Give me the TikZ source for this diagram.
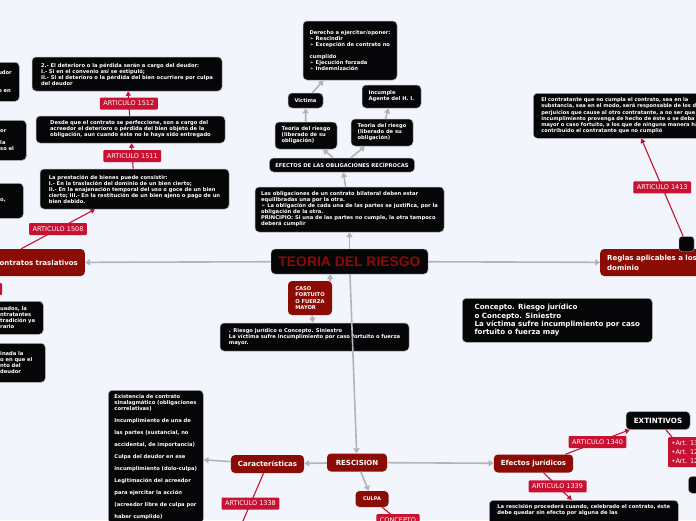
\documentclass[tikz,border=0pt]{standalone}
\usepackage{fontspec}
\setmainfont{DejaVu Sans}
\newfontfamily\titlefont{Liberation Sans}
\usepackage{tikz}
\usetikzlibrary{arrows.meta, positioning, calc}
\usepackage{xcolor}

\definecolor{bgblue}{RGB}{243,245,252}
\definecolor{nodered}{RGB}{139,12,4}
\definecolor{artred}{RGB}{201,17,50}
\definecolor{boxblack}{RGB}{6,6,8}
\definecolor{linkgray}{RGB}{178,180,186}

\tikzset{
  blackbox/.style={fill=boxblack, draw=gray!60, line width=0.5pt, rounded corners=4pt, text=white,
    align=left, font=\bfseries\fontsize{5.2}{6}\selectfont, inner xsep=6pt, inner ysep=4pt},
  redbox/.style={fill=nodered, rounded corners=4pt, text=white, align=left,
    font=\bfseries\fontsize{7}{10}\selectfont, inner xsep=7pt},
  artlabel/.style={fill=artred, text=white, font=\fontsize{6.5}{7}\selectfont, inner xsep=3.5pt,
    inner ysep=0pt, minimum height=12pt, rounded corners=1pt},
  graylink/.style={draw=linkgray, line width=1.6pt, -{Triangle[length=5pt,width=6pt]}},
  redlink/.style={draw=artred, line width=1.1pt, -{Triangle[length=4.5pt,width=5pt]}},
  redline/.style={draw=artred, line width=1.1pt},
}

\begin{document}
\begin{tikzpicture}[x=1pt, y=-1pt]
  \useasboundingbox (0,0) rectangle (696,520);
  \fill[bgblue] (0,0) rectangle (696,520);

  % centre
  \node[fill=boxblack, draw=gray!60, rounded corners=4pt, text=nodered,
    font=\titlefont\bfseries\fontsize{13.9}{14}\selectfont,
    minimum width=157pt, minimum height=25pt] (title) at (349.5,261.5) {TEORIA DEL RIESGO};

  % upper branch
  \node[blackbox, minimum width=189pt, minimum height=45pt] (principio) at (349.5,209.5)
    {Las obligaciones de un contrato bilateral deben estar\\equilibradas una por la otra.\\
     ➢ La obligación de cada una de las partes se justifica, por la\\obligación de la otra.\\
     PRINCIPIO: Si una de las partes no cumple, la otra tampoco\\deberá cumplir};
  \node[blackbox, minimum width=144pt, minimum height=14pt] (efectosrec) at (342,165)
    {EFECTOS DE LAS OBLIGACIONES RECÍPROCAS};
  \node[blackbox, minimum width=62pt, minimum height=27pt] (teoriaL) at (306,135.5)
    {Teoria del riesgo\\(liberado de su\\obligación)};
  \node[blackbox, minimum width=62pt, minimum height=27pt] (teoriaR) at (382,132.5)
    {Teoria del riesgo\\(liberado de su\\obligación)};
  \node[blackbox, minimum width=35pt, minimum height=15pt] (victima) at (305.5,100.5) {Victima};
  \node[blackbox, minimum width=94pt, minimum height=59pt] (derecho) at (350,50.5)
    {Derecho a ejercitar/oponer:\\➢ Rescindir\\➢ Excepción de contrato no\\[6pt]cumplido\\
     ➢ Ejecución forzada\\➢ Indemnización};
  \node[blackbox, minimum width=59pt, minimum height=23pt] (incumple) at (391.5,96.5)
    {Incumple\\Agente del H. I.};

  \draw[graylink] (title) -- (principio);
  \draw[graylink] (principio) -- (efectosrec);
  \draw[graylink] (efectosrec) -- (teoriaL);
  \draw[graylink] (efectosrec) -- (teoriaR);
  \draw[graylink] (teoriaL) -- (victima);
  \draw[graylink] (victima) -- (derecho);
  \draw[graylink] (teoriaR) -- (incumple);

  % left branch
  \node[redbox, anchor=east, minimum height=27pt] (contratos) at (85,262.5) {Contratos traslativos};
  \node[blackbox, minimum width=189pt, minimum height=40pt] (prestacion) at (134.5,189)
    {La prestación de bienes puede consistir:\\I.- En la traslación del dominio de un bien cierto;\\
     II.- En la enajenación temporal del uso o goce de un bien\\
     cierto; III.- En la restitución de un bien ajeno o pago de un\\bien debido.};
  \node[blackbox, minimum width=189pt, minimum height=27pt] (desde) at (130.5,129.5)
    {Desde que el contrato se perfeccione, son a cargo del\\
     acreedor el deterioro o pérdida del bien objeto de la\\
     obligación, aun cuando éste no le haya sido entregado};
  \node[blackbox, minimum width=190pt, minimum height=34pt] (deterioro) at (127,74)
    {2.- El deterioro o la pérdida serán a cargo del deudor:\\I.- Si en el convenio así se estipuló;\\
     II.- Si el deterioro o la pérdida del bien ocurriere por culpa\\del deudor};

  \node[blackbox, anchor=north west, text width=15pt, minimum height=39pt] (cutA) at (-8,62)
    {udor\\[12pt]o en};
  \node[blackbox, anchor=north west, text width=20pt, minimum height=40pt] (cutB) at (-6,120)
    {or\\[6pt]la\\so el};
  \node[blackbox, anchor=north west, text width=17pt, minimum height=35pt] (cutC) at (-6,183) {o,};
  \node[blackbox, anchor=north west, text width=37pt, minimum height=33pt] (cutD) at (-6,301)
    {uados, la\\ntratantes\\tradición ya\\rario};
  \node[blackbox, anchor=north west, text width=39pt, minimum height=39pt] (cutE) at (-6,343)
    {inada la\\o en que el\\nto del\\deudor};
  \node[artlabel, minimum width=8pt] (cutlabel) at (-2,289) {};

  \draw[graylink] (title) -- (contratos);
  \draw[redlink] ([xshift=-15pt]contratos.north) -- ([xshift=-39.5pt]prestacion.south)
    node[artlabel, midway] {ARTICULO 1508};
  \draw[redlink] (prestacion) -- (desde) node[artlabel, midway] {ARTICULO 1511};
  \draw[redlink] (desde) -- (deterioro) node[artlabel, midway] {ARTICULO 1512};

  % right branch
  \node[redbox, anchor=west, minimum height=27pt] (reglas) at (600,262.5) {Reglas aplicables a los\\dominio};
  \node[fill=boxblack, draw=gray!60, rounded corners=3pt, minimum size=15pt] (sq) at (686.5,244) {};
  \node[blackbox, anchor=north west, text width=200pt, inner xsep=8pt, minimum height=45pt,
    font=\bfseries\fontsize{5.1}{6.3}\selectfont] (bigR) at (533,93)
    {El contratante que no cumpla el contrato, sea en la\\
     substancia, sea en el modo, será responsable de los da\\
     perjuicios que cause al otro contratante, a no ser que e\\
     incumplimiento provenga de hecho de éste o se deba a\\
     mayor o caso fortuito, a los que de ninguna manera hay\\
     contribuido el contratante que no cumplió};
  \node[blackbox, anchor=north west, minimum width=190pt, minimum height=44pt,
    font=\bfseries\fontsize{7.1}{8.3}\selectfont] (concepto) at (462,298)
    {Concepto. Riesgo jurídico\\o Concepto. Siniestro\\La víctima sufre incumplimiento por caso\\
     fortuito o fuerza may};

  \draw[graylink] (title) -- (reglas);
  \draw[redlink] (sq) -- (bigR.south) node[artlabel, midway] {ARTICULO 1413};

  % lower branch
  \node[redbox, minimum width=44pt, minimum height=34pt, font=\bfseries\fontsize{5.2}{6.3}\selectfont]
    (caso) at (310,298) {CASO\\FORTUITO\\O FUERZA\\MAYOR};
  \node[blackbox, minimum width=189pt, minimum height=28pt] (riesgo) at (314.5,337)
    {. Riesgo jurídico o Concepto. Siniestro\\
     La víctima sufre incumplimiento por caso fortuito o fuerza\\mayor.};
  \node[redbox, minimum width=60pt, minimum height=18pt] (rescision) at (357,462.5) {RESCISION};
  \node[redbox, minimum width=73pt, minimum height=18pt] (caract) at (267.5,464) {Características};
  \node[blackbox, anchor=north west, minimum width=95pt] (lista) at (108,390)
    {Existencia de contrato\\sinalagmático (obligaciones\\correlativas)\\[6pt]
     Incumplimiento de una de\\[6pt]las partes (sustancial, no\\[6pt]accidental, de importancia)\\[6pt]
     Culpa del deudor en ese\\[6pt]incumplimiento (dolo-culpa)\\[6pt]
     Legitimación del acreedor\\[6pt]para ejercitar la acción\\[6pt]
     (acreedor libre de culpa por\\[6pt]haber cumplido)};
  \coordinate (c1338) at (234.8,540);
  \node[redbox, minimum width=33pt, minimum height=16pt, font=\bfseries\fontsize{5}{6}\selectfont]
    (culpa) at (372,499) {CULPA};
  \node[artlabel, anchor=north] (lblconcepto) at (398,514) {CONCEPTO};
  \node[redbox, minimum width=79pt, minimum height=18pt] (efectosjur) at (533.5,463.5) {Efectos jurídicos};
  \node[blackbox, minimum width=64pt, minimum height=18pt, font=\bfseries\fontsize{7.2}{8}\selectfont]
    (extintivos) at (658,420.5) {EXTINTIVOS};
  \node[artlabel, anchor=north west, align=left, minimum height=30pt, font=\fontsize{6.5}{9}\selectfont]
    (artlist) at (668,437) {•Art. 13\\•Art. 12\\•Art. 12};
  \node[blackbox, anchor=north west, minimum width=30pt, minimum height=17pt] (cutF) at (688,476) {};
  \node[blackbox, anchor=north west, minimum width=189pt] (ley) at (489,500)
    {La rescisión procederá cuando, celebrado el contrato, éste\\
     debe quedar sin efecto por alguna de las\\\mbox{}};

  \draw[graylink] ([xshift=-2pt]caso.north east) -- ([xshift=-2pt]caso.north east |- title.south);
  \draw[graylink] (caso) -- (riesgo);
  \draw[graylink] (title) -- (rescision);
  \draw[graylink] (rescision) -- (caract);
  \draw[graylink] (caract) -- (lista);
  \draw[graylink] (rescision) -- (culpa);
  \draw[graylink] (rescision) -- (efectosjur);
  \draw[redline] (caract) -- (c1338) node[artlabel, pos=0.455] {ARTICULO 1338};
  \draw[redline] (culpa) -- (lblconcepto);
  \draw[redlink] ([xshift=-8pt]efectosjur.north east) -- ([xshift=4pt]extintivos.south west)
    node[artlabel, midway] {ARTICULO 1340};
  \draw[redline] (extintivos) -- (artlist);
  \draw[redlink] ([xshift=10pt]efectosjur.south) -- ([xshift=-12pt]ley.north)
    node[artlabel, midway] {ARTICULO 1339};
\end{tikzpicture}
\end{document}
